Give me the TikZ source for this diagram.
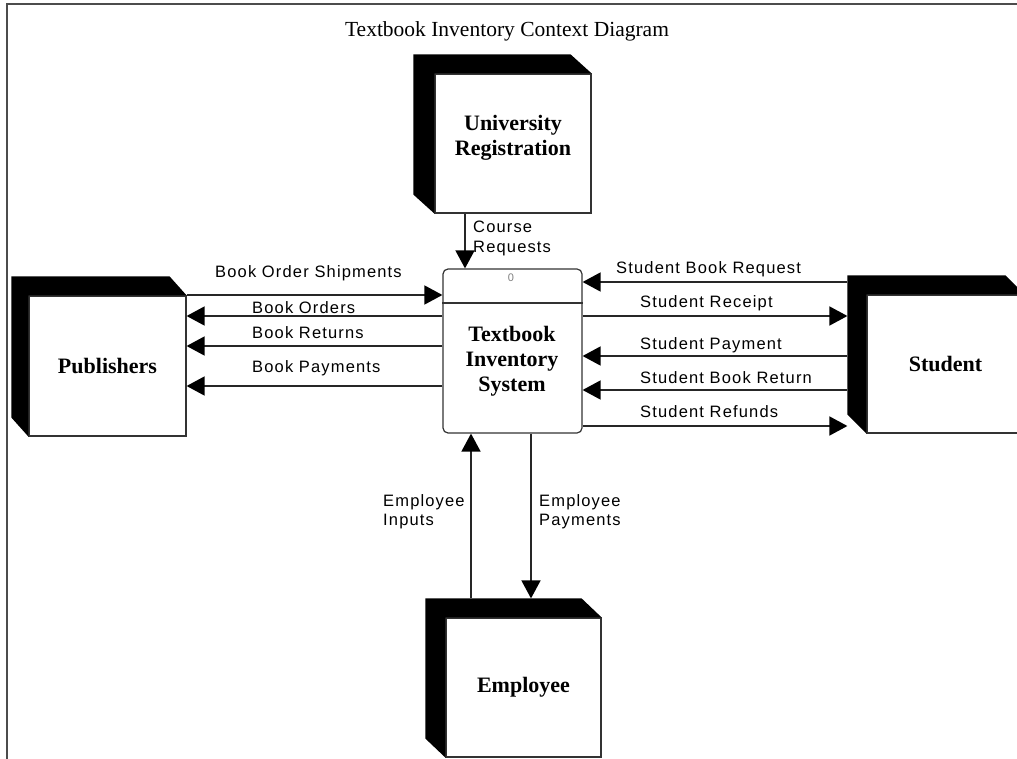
\documentclass[tikz,border=0pt]{standalone}
\usepackage{fontspec}
\setmainfont{Liberation Serif}
\newfontfamily\lblfont[LetterSpace=7]{Liberation Sans}
\usetikzlibrary{arrows.meta,calc}

% black extrusion on the top and left of an external entity
\newcommand\entityshade[3]{%
  \fill[black] ($(#1.north west)+(-#2,-#3)$) -- ($(#1.north east)+(-#2,-#3)$)
    -- (#1.north east) -- (#1.north west) -- (#1.south west)
    -- ($(#1.south west)+(-#2,-#3)$) -- cycle;}

\begin{document}
\begin{tikzpicture}[x=1pt,y=-1pt,
  entity/.style={draw=black!80, line width=1.2pt, fill=white, rectangle,
    inner sep=0pt, font=\fontsize{22}{25}\selectfont\bfseries, align=center},
  boxtext/.style={font=\fontsize{22}{25}\selectfont\bfseries, align=center, inner sep=0pt},
  flow/.style={draw=black!85, line width=1.6pt,
    -{Triangle[length=18pt,width=19pt,color=black]}},
  flowlbl/.style={font=\lblfont\fontsize{16.5}{19.5}\selectfont, inner sep=0pt, align=left},
]
\useasboundingbox (0,0) rectangle (1017,759);

% page frame
\draw[black!70, line width=2pt] (7,759) -- (7,4) -- (1017,4);

% title
\node[font=\fontsize{21.5}{25}\selectfont, anchor=base, inner sep=0pt] (title) at (507,37)
  {Textbook Inventory Context Diagram};

% external entities
\node[entity, minimum width=156pt, minimum height=139pt] (univ) at (513,143.5) {};
\node[boxtext, anchor=north] (univtext) at (513,115) {University\\Registration};
\node[entity, minimum width=157pt, minimum height=140pt] (pub) at (107.5,366) {Publishers};
\node[entity, minimum width=157pt, minimum height=138pt] (stu) at (945.5,364) {Student};
\node[entity, minimum width=155pt, minimum height=139pt] (emp) at (523.5,687.5) {Employee};

\entityshade{univ}{21}{19}
\entityshade{pub}{17}{19}
\entityshade{stu}{19}{19}
\entityshade{emp}{20}{19}

\coordinate (stuL) at ([xshift=-19pt]stu.west);
\coordinate (empT) at ([yshift=19pt]emp.north);

% process
\node[draw=black!80, line width=1.2pt, rounded corners=5pt, fill=white,
  minimum width=139pt, minimum height=164pt, inner sep=0pt] (proc) at (512.5,351) {};
\draw[black!80, line width=1.2pt] (proc.west |- 0,303) -- (proc.east |- 0,303);
\node[font=\lblfont\fontsize{11}{12}\selectfont, text=black!50, inner sep=0pt] (pid) at (511,278) {0};
\node[boxtext, anchor=north] (proctext) at (512,326) {Textbook\\Inventory\\System};

% data flows
\draw[flow] (univ.south -| 465,0) -- (proc.north -| 465,0);

\draw[flow] (pub.east |- 0,295) -- (proc.west |- 0,295);
\draw[flow] (proc.west |- 0,316) -- (pub.east |- 0,316);
\draw[flow] (proc.west |- 0,346) -- (pub.east |- 0,346);
\draw[flow] (proc.west |- 0,386) -- (pub.east |- 0,386);

\draw[flow] (stuL |- 0,282) -- (proc.east |- 0,282);
\draw[flow] (proc.east |- 0,316) -- (stuL |- 0,316);
\draw[flow] (stuL |- 0,356) -- (proc.east |- 0,356);
\draw[flow] (stuL |- 0,390) -- (proc.east |- 0,390);
\draw[flow] (proc.east |- 0,426) -- (stuL |- 0,426);

\draw[flow] (empT -| 471,0) -- (proc.south -| 471,0);
\draw[flow] (proc.south -| 531,0) -- (empT -| 531,0);

% flow labels
\node[flowlbl, anchor=north west] (lcr) at (473,221) {Course\\Requests};

\node[flowlbl, anchor=base west] (lbos) at (215,278) {Book Order Shipments};
\node[flowlbl, anchor=base west] (lbo) at (252,313) {Book Orders};
\node[flowlbl, anchor=base west] (lbr) at (252,338) {Book Returns};
\node[flowlbl, anchor=base west] (lbp) at (252,372) {Book Payments};

\node[flowlbl, anchor=base west] (lsbq) at (616,273) {Student Book Request};
\node[flowlbl, anchor=base west] (lsr) at (640,307) {Student Receipt};
\node[flowlbl, anchor=base west] (lsp) at (640,349) {Student Payment};
\node[flowlbl, anchor=base west] (lsbr) at (640,383) {Student Book Return};
\node[flowlbl, anchor=base west] (lsf) at (640,417) {Student Refunds};

\node[flowlbl, anchor=north west] (lei) at (383,494) {Employee\\Inputs};
\node[flowlbl, anchor=north west] (lep) at (539,494) {Employee\\Payments};
\end{tikzpicture}
\end{document}
